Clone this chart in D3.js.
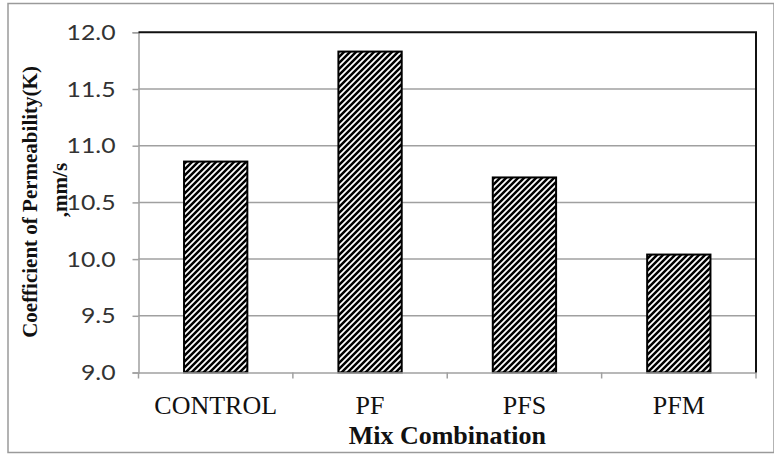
<!DOCTYPE html>
<html><head><meta charset="utf-8">
<script src="https://cdn.jsdelivr.net/npm/d3@7"></script>
<style>body{margin:0;background:#fff}svg{display:block}</style>
</head><body>
<svg id="c" width="774" height="454"></svg>
<script>
const categories = ["CONTROL", "PF", "PFS", "PFM"];
const values = [10.86, 11.83, 10.72, 10.04];
const yTicks = [9.0, 9.5, 10.0, 10.5, 11.0, 11.5, 12.0];
const yTitle = ["Coefficient of Permeability(K)", ",mm/s"];
const xTitle = "Mix Combination";

const svg = d3.select("#c");
const m = {left: 138.5, right: 756, top: 32.3, bottom: 372.5};
const serif = "'Liberation Serif', 'Times New Roman', Times, serif";

svg.append("rect").attr("x", 8).attr("y", 3.5).attr("width", 766).attr("height", 449)
  .attr("fill", "#fff").attr("stroke", "#9a9a9a").attr("stroke-width", 1.5);

const defs = svg.append("defs");
const pat = defs.append("pattern").attr("id", "hatch").attr("patternUnits", "userSpaceOnUse")
  .attr("width", 6).attr("height", 6);
pat.append("rect").attr("width", 6).attr("height", 6).attr("fill", "#fff");
pat.append("path").attr("d", "M-1,1 l2,-2 M0,6 l6,-6 M5,7 l2,-2")
  .attr("stroke", "#000").attr("stroke-width", 2.5);

const x = d3.scaleBand().domain(categories).range([m.left, m.right]).paddingInner(0.59).paddingOuter(0.295);
const xb = d3.scaleBand().domain(categories).range([m.left, m.right]);
const y = d3.scaleLinear().domain([9, 12]).range([m.bottom, m.top]);

// gridlines
svg.append("g").selectAll("line").data(yTicks.filter(t => t > 9 && t < 12)).join("line")
  .attr("x1", m.left).attr("x2", m.right).attr("y1", d => y(d)).attr("y2", d => y(d))
  .attr("stroke", "#a0a0a0").attr("stroke-width", 1.5);

// bars
svg.append("g").selectAll("rect").data(categories).join("rect")
  .attr("x", d => x(d)).attr("width", x.bandwidth())
  .attr("y", (d, i) => y(values[i])).attr("height", (d, i) => y(9) - y(values[i]))
  .attr("fill", "url(#hatch)").attr("stroke", "#000").attr("stroke-width", 2);

// y axis
const ya = svg.append("g").attr("transform", `translate(${m.left},0)`)
  .call(d3.axisLeft(y).tickValues(yTicks).tickFormat(d3.format(".1f")).tickSize(6).tickPadding(0));
ya.select(".domain").attr("stroke", "#a0a0a0").attr("stroke-width", 1.5);
ya.selectAll(".tick line").attr("stroke", "#a0a0a0").attr("stroke-width", 1.5);
ya.selectAll(".tick text").each(function() {
  d3.select(this).attr("x", null).attr("dy", null).attr("text-anchor", "end")
   .attr("transform", `translate(-23,7) scale(1.18,1)`)
   .attr("font-family", "Lato, 'Open Sans', sans-serif").attr("font-size", 21).attr("fill", "#333");
});

// x axis
const xa = svg.append("g").attr("transform", `translate(0,${m.bottom})`)
  .call(d3.axisBottom(xb).tickSize(0).tickPadding(0));
xa.select(".domain").attr("stroke", "#a0a0a0").attr("stroke-width", 1.5);
xa.selectAll(".tick text").each(function() {
  d3.select(this).attr("y", null).attr("dy", null).attr("text-anchor", "middle")
    .attr("transform", `translate(0,41)`)
    .attr("font-family", serif).attr("font-size", 26).attr("fill", "#111");
});
const bounds = categories.map(c => xb(c)).concat([m.right]);
svg.append("g").selectAll("line").data(bounds).join("line")
  .attr("x1", d => d).attr("x2", d => d).attr("y1", m.bottom).attr("y2", m.bottom + 6)
  .attr("stroke", "#a0a0a0").attr("stroke-width", 1.5);

// top & right black border
svg.append("path").attr("d", `M${m.left},${m.top}H${m.right}V${m.bottom}`)
  .attr("fill", "none").attr("stroke", "#111").attr("stroke-width", 2);

// x title
svg.append("text").attr("transform", `translate(${(m.left + m.right) / 2},444)`)
  .attr("text-anchor", "middle").attr("font-family", serif)
  .attr("font-weight", "bold").attr("font-size", 26).attr("fill", "#111").text(xTitle);

// y title
svg.append("text").attr("transform", `translate(37,202) rotate(-90)`)
  .attr("text-anchor", "middle").attr("font-family", serif)
  .attr("font-weight", "bold").attr("font-size", 21).attr("fill", "#111").text(yTitle[0]);
svg.append("text").attr("transform", `translate(67,190) rotate(-90)`)
  .attr("text-anchor", "middle").attr("font-family", serif)
  .attr("font-weight", "bold").attr("font-size", 21).attr("fill", "#111").text(yTitle[1]);
</script>
</body></html>
